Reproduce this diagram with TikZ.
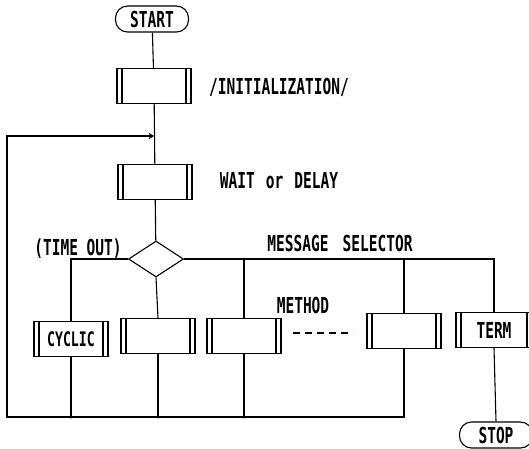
\documentclass[tikz,border=0pt]{standalone}
\usepackage{fontspec}
\newfontfamily\flowfont[FakeStretch=0.66]{DejaVu Sans Mono}
\usetikzlibrary{arrows.meta,positioning,shapes.geometric}

\begin{document}
\begin{tikzpicture}[x=1pt,y=-1pt,line width=1.1pt,
    font=\flowfont\bfseries\fontsize{22}{22}\selectfont,
    proc/.style={draw,rectangle,minimum width=74pt,minimum height=35pt,inner sep=0pt,
        path picture={
            \draw ([xshift=5pt]path picture bounding box.north west) -- ([xshift=5pt]path picture bounding box.south west);
            \draw ([xshift=-5pt]path picture bounding box.north east) -- ([xshift=-5pt]path picture bounding box.south east);}},
    term/.style={draw,rectangle,rounded corners=12pt,minimum width=73pt,minimum height=26pt,inner sep=0pt},
    decide/.style={draw,diamond,minimum width=55pt,minimum height=36pt,inner sep=0pt},
    dot/.style={circle,fill,inner sep=0pt,minimum size=3pt}]
    \useasboundingbox (0,0) rectangle (529,448);
    % main column
    \node[term] (start) at (152,19) {START};
    \node[proc] (init) at (154,86) {};
    \node[proc] (wait) at (155,182) {};
    \node[decide] (sel) at (156,259) {};
    \node (init_lbl) at (279,87) {/INITIALIZATION/};
    \node (wait_lbl) at (279,181) {WAIT\enspace or\enspace DELAY};
    \node (time_lbl) at (78,249) {(TIME OUT)};
    \node (sel_lbl) at (340,243) {MESSAGE\hspace{14pt}SELECTOR};
    % methods
    \node[proc] (cyclic) at (71,339) {\fontsize{20}{20}\selectfont CYCLIC};
    \node[proc] (m_1) at (158,336) {};
    \node[proc] (m_2) at (244,336) {};
    \node[proc] (m_n) at (404,331) {};
    \node[proc,minimum width=76pt] (term_box) at (494,330) {TERM};
    \node[term] (stop) at (496,435) {STOP};
    \node (meth_lbl) at (303,305) {METHOD};
    \coordinate (dash_a) at (293,333);
    \coordinate (dash_b) at (353,333);
    \draw[dashed,dash pattern=on 7pt off 5pt] (dash_a) -- (dash_b);
    % selector lines
    \coordinate (j_2) at (m_2 |- sel);
    \coordinate (j_n) at (m_n |- sel);
    \coordinate (bot) at (0,417);
    \coordinate (back_bl) at (7,417);
    \coordinate (back_tl) at (7,136);
    \coordinate (back_in) at (init |- back_tl);
    \draw (start) -- (init) -- (wait) -- (sel);
    \draw (sel.west) -| (cyclic.north);
    \draw (sel.south) -- (m_1.north);
    \draw (sel.east) -| (term_box.north);
    \draw (j_2) -- (m_2.north);
    \draw (j_n) -- (m_n.north);
    \draw (term_box.south) -- (stop.north);
    % return path
    \draw (cyclic.south) -- (cyclic |- bot);
    \draw (m_1.south) -- (m_1 |- bot);
    \draw (m_2.south) -- (m_2 |- bot);
    \draw[-{Straight Barb[length=4pt,width=5pt]}] (m_n.south) |- (back_bl) -- (back_tl) -- (back_in);
    \node[dot] at (j_2) {};
    \node[dot] at (cyclic |- bot) {};
    \node[dot] at (m_1 |- bot) {};
    \node[dot] at (m_2 |- bot) {};
\end{tikzpicture}
\end{document}
